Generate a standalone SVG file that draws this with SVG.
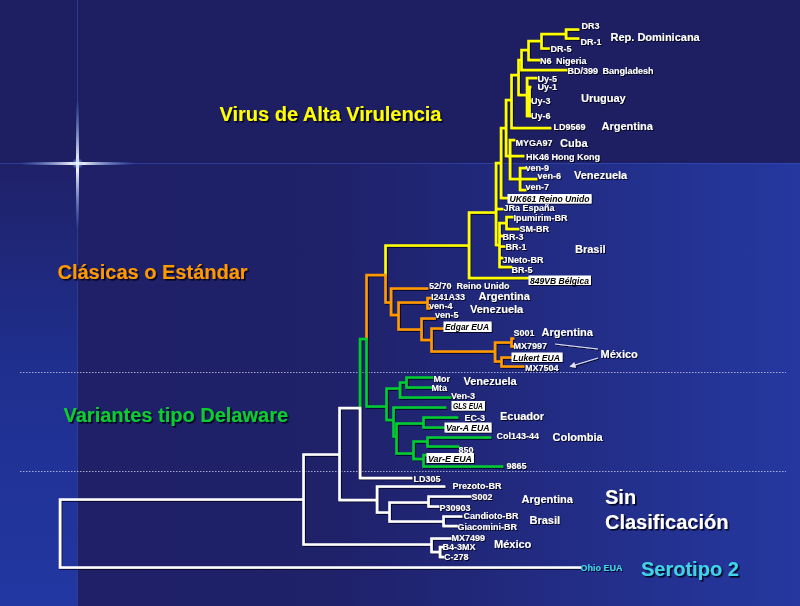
<svg xmlns="http://www.w3.org/2000/svg" width="800" height="606" viewBox="0 0 800 606">
<defs>
<linearGradient id="bgH" x1="0" y1="0" x2="1" y2="0">
<stop offset="0" stop-color="#1f2066"/><stop offset="0.42" stop-color="#1f2169"/><stop offset="1" stop-color="#2538a0"/>
</linearGradient>
<linearGradient id="bgL" x1="0" y1="0" x2="0" y2="1">
<stop offset="0" stop-color="#1f2168"/><stop offset="0.45" stop-color="#1f2f8e"/><stop offset="1" stop-color="#2237a2"/>
</linearGradient>
<linearGradient id="flH" x1="0" y1="0" x2="1" y2="0">
<stop offset="0" stop-color="#6aa0ff" stop-opacity="0"/><stop offset="0.45" stop-color="#ffffff" stop-opacity="0.9"/><stop offset="0.5" stop-color="#ffffff"/><stop offset="0.55" stop-color="#ffffff" stop-opacity="0.9"/><stop offset="1" stop-color="#6aa0ff" stop-opacity="0"/>
</linearGradient>
<linearGradient id="flV" x1="0" y1="0" x2="0" y2="1">
<stop offset="0" stop-color="#6aa0ff" stop-opacity="0"/><stop offset="0.45" stop-color="#ffffff" stop-opacity="0.9"/><stop offset="0.5" stop-color="#ffffff"/><stop offset="0.55" stop-color="#ffffff" stop-opacity="0.9"/><stop offset="1" stop-color="#6aa0ff" stop-opacity="0"/>
</linearGradient>
<radialGradient id="glow"><stop offset="0" stop-color="#ffffff"/><stop offset="0.4" stop-color="#c0d8ff" stop-opacity="0.6"/><stop offset="1" stop-color="#6aa0ff" stop-opacity="0"/></radialGradient>
<filter id="sh" x="-10%" y="-40%" width="130%" height="180%"><feDropShadow dx="1" dy="1" stdDeviation="0.2" flood-color="#000018" flood-opacity="0.9"/></filter>
<filter id="shb" x="-10%" y="-40%" width="130%" height="180%"><feDropShadow dx="1.6" dy="1.6" stdDeviation="0.2" flood-color="#000018" flood-opacity="0.9"/></filter>
<marker id="ah" viewBox="0 0 10 10" refX="9" refY="5" markerWidth="6" markerHeight="5" orient="auto"><path d="M0,0 L10,5 L0,10 z" fill="#e4e4ff"/></marker>
<style>
.t{font-family:"Liberation Sans",Arial,sans-serif;font-weight:bold;font-size:9px;fill:#fff}
.c{font-size:11px}
.big{font-size:20px}
.bl{fill:#000;font-style:italic}
.bx{fill:#fff}
.ln{fill:none;stroke-width:2.6;stroke-linejoin:miter;stroke-linecap:square}
.dot{stroke:#c8c8e8;stroke-width:1;stroke-dasharray:1.5 1.5;opacity:0.8}
</style>
</defs>

<!-- background -->
<rect x="0" y="0" width="800" height="606" fill="#1e1f62"/>
<rect x="0" y="163" width="800" height="443" fill="url(#bgH)"/>
<rect x="0" y="163" width="77" height="443" fill="url(#bgL)"/>
<line x1="0" y1="163.5" x2="800" y2="163.5" stroke="#3550b8" stroke-width="1" opacity="0.6"/>
<line x1="77.5" y1="0" x2="77.5" y2="606" stroke="#3a60c8" stroke-width="1" opacity="0.45"/>
<rect x="20" y="162" width="115" height="3" fill="url(#flH)"/>
<rect x="76" y="100" width="3" height="130" fill="url(#flV)"/>
<circle cx="77.5" cy="163.5" r="6" fill="url(#glow)"/>

<line class="dot" x1="20" y1="372.5" x2="786" y2="372.5"/>
<line class="dot" x1="20" y1="471.5" x2="786" y2="471.5"/>

<!-- connectors -->
<g id="connectors" filter="url(#sh)">
<path class="ln" stroke="#ffff00" d="M385.5,275 V245.5 H469 M469,212.5 V278 H528 M469,212.5 H496 M496,163 V245 H499.5 M496,163 H501 M496,209 H502 M499.5,223 V267 H511 M499.5,223 H506.5 M499.5,236 H502 M499.5,246.5 H504 M499.5,258 H502 M506.5,217 V229 H518 M506.5,217 H512 M501,128 V198 H507.5 M501,128 H506 M506,100 V156 H510 M506,100 H511.5 M510,140 V179 H536 M510,140 H514 M510,156 H523 M520,168 V190 H525 M520,168 H525 M511.5,75 V128 H550 M511.5,75 H518.5 M518.5,60 V95 H527 M518.5,60 H521.5 M521.5,50 V70 H566 M521.5,50 H528.5 M528.5,41 V60 H539 M528.5,41 H541.5 M541.5,34 V48.5 H548.5 M541.5,34 H566 M566,29.5 V38.5 H578 M566,29.5 H578 M527,78 V116 H530 M527,78 H536 M527,87 H530 M527,101 H530 M529.5,88 V116"/>
<path class="ln" stroke="#ff9900" d="M366.5,339 V275 H385.5 V302.5 H391 M391,288.5 V315 H398.5 M391,288.5 H427 M398.5,302.5 V329.5 H421.5 M398.5,302.5 H427.5 M427.5,298 V308.5 H429 M427.5,298 H430 M421.5,318.5 V340 H431.5 M421.5,318.5 H434.5 M431.5,328.5 V351.5 H495 M431.5,328.5 H443.5 M495,342.5 V361.5 H501.5 M495,342.5 H511.5 M511.5,338.5 V346.5 H513 M511.5,338.5 H513 M501.5,357.5 V366.5 H523 M501.5,357.5 H511.5"/>
<path class="ln" stroke="#00cc33" d="M366.5,339 V406.5 H386.5 M360,408 V339 H366.5 M386.5,388.5 V420 H393.5 M386.5,388.5 H400 M400,382.5 V397.5 H450 M400,382.5 H406.5 M406.5,377.5 V387.5 H431 M406.5,377.5 H432 M393.5,407.5 V436.5 H396.5 M393.5,407.5 H445 M396.5,423.5 V453.5 H413.5 M396.5,423.5 H423.5 M423.5,417.5 V427.5 H444.5 M423.5,417.5 H457 M413.5,441.5 V459 H423.5 M413.5,441.5 H427.5 M427.5,437.5 V446.5 H458 M427.5,437.5 H490 M423.5,455 V466.5 H502 M423.5,455 H426.5"/>
<path class="ln" stroke="#ffffff" d="M303.5,499.5 H60 V567.5 H580 M303.5,454.5 V544.5 H431.5 M303.5,454.5 H339.5 M339.5,408 V500 H377 M339.5,408 H360 V478 H411 M377,486.5 V512.5 H389.5 M377,486.5 H444 M389.5,502.5 V521.5 H443.5 M389.5,502.5 H428.5 M428.5,496.5 V506.5 H438 M428.5,496.5 H470 M443.5,516.5 V526 H456.5 M443.5,516.5 H461 M431.5,538.5 V552 H440 M431.5,538.5 H450 M440,547 V557 H443 M440,547 H442"/>
<path d="M598,349 L555,344 M598,358 L570,366.5" stroke="#e4e4ff" stroke-width="1.2" fill="none" marker-end="url(#ah)"/>
</g>

<!-- group titles -->
<g id="titles" filter="url(#shb)">
<text class="t big" x="219.5" y="120.5" style="fill:#ffff00">Virus de Alta Virulencia</text>
<text class="t big" x="57.5" y="279" style="fill:#ff9900">Clásicas o Estándar</text>
<text class="t big" x="63.5" y="421.5" style="fill:#11cc33">Variantes tipo Delaware</text>
<text class="t big" x="605" y="503.5">Sin</text>
<text class="t big" x="605" y="528.5">Clasificación</text>
<text class="t big" x="641" y="576" style="fill:#40d4e8">Serotipo 2</text>
</g>

<!-- labels: alta virulencia -->
<g filter="url(#sh)">
<g id="n-DR3"><text class="t" x="581.5" y="28.5">DR3</text></g>
<g id="n-DR1"><text class="t" x="580.5" y="44.5">DR-1</text></g>
<g id="c-repdom"><text class="t c" x="610.5" y="40.5">Rep. Dominicana</text></g>
<g id="n-DR5"><text class="t" x="550.5" y="52">DR-5</text></g>
<g id="n-N6"><text class="t" x="540" y="64"><tspan x="540">N6</tspan><tspan x="556">Nigeria</tspan></text></g>
<g id="n-BD399"><text class="t" x="567.5" y="74"><tspan x="567.5">BD/399</tspan><tspan x="602.5">Bangladesh</tspan></text></g>
<g id="n-Uy5"><text class="t" x="537.5" y="81.5">Uy-5</text></g>
<g id="n-Uy1"><text class="t" x="537.5" y="90">Uy-1</text></g>
<g id="n-Uy3"><text class="t" x="531" y="103.5">Uy-3</text></g>
<g id="n-Uy6"><text class="t" x="531" y="118.5">Uy-6</text></g>
<g id="c-uruguay"><text class="t c" x="581" y="101.5">Uruguay</text></g>
<g id="n-LD9569"><text class="t" x="553.5" y="129.5">LD9569</text></g>
<g id="c-arg1"><text class="t c" x="601.5" y="129.5">Argentina</text></g>
<g id="n-MYGA97"><text class="t" x="515.5" y="145.5">MYGA97</text></g>
<g id="c-cuba"><text class="t c" x="560" y="146.5">Cuba</text></g>
<g id="n-HK46"><text class="t" x="526" y="160">HK46 Hong Kong</text></g>
<g id="n-ven9"><text class="t" x="525.5" y="170.5">ven-9</text></g>
<g id="n-ven6"><text class="t" x="537.5" y="179">ven-6</text></g>
<g id="c-ven1"><text class="t c" x="574" y="178.5">Venezuela</text></g>
<g id="n-ven7"><text class="t" x="525.5" y="190">ven-7</text></g>
<g id="n-UK661"><rect class="bx" x="507.5" y="194" width="84" height="9.5"/><text class="t bl" x="509.5" y="202" textLength="80" lengthAdjust="spacingAndGlyphs">UK661 Reino Unido</text></g>
<g id="n-JRa"><text class="t" x="503.5" y="211">JRa España</text></g>
<g id="n-Ipumirim"><text class="t" x="513.5" y="220.5">Ipumirim-BR</text></g>
<g id="n-SMBR"><text class="t" x="519.5" y="232">SM-BR</text></g>
<g id="n-BR3"><text class="t" x="502.5" y="239.5">BR-3</text></g>
<g id="n-BR1"><text class="t" x="505.5" y="249.5">BR-1</text></g>
<g id="c-brasil1"><text class="t c" x="575" y="252.5">Brasil</text></g>
<g id="n-JNeto"><text class="t" x="502.5" y="262.5">JNeto-BR</text></g>
<g id="n-BR5"><text class="t" x="511.5" y="272.5">BR-5</text></g>
<g id="n-849VB"><rect class="bx" x="528.5" y="275.5" width="62.5" height="9.5"/><text class="t bl" x="530" y="283.5" textLength="59" lengthAdjust="spacingAndGlyphs">849VB Bélgica</text></g>
</g>

<!-- labels: clasicas -->
<g filter="url(#sh)">
<g id="n-5270"><text class="t" x="429" y="288.5"><tspan x="429">52/70</tspan><tspan x="456.5">Reino Unido</tspan></text></g>
<g id="n-I241A33"><text class="t" x="431" y="299.5">I241A33</text></g>
<g id="c-arg2"><text class="t c" x="478.5" y="299.5">Argentina</text></g>
<g id="n-ven4"><text class="t" x="429" y="309">ven-4</text></g>
<g id="c-ven2"><text class="t c" x="470" y="313">Venezuela</text></g>
<g id="n-ven5"><text class="t" x="435" y="318">ven-5</text></g>
<g id="n-Edgar"><rect class="bx" x="443.5" y="321.5" width="48" height="10.5"/><text class="t bl" x="445" y="330.3" textLength="44" lengthAdjust="spacingAndGlyphs">Edgar EUA</text></g>
<g id="n-S001"><text class="t" x="513.5" y="336">S001</text></g>
<g id="c-arg3"><text class="t c" x="541.5" y="336">Argentina</text></g>
<g id="n-MX7997"><text class="t" x="513.5" y="348.5">MX7997</text></g>
<g id="n-Lukert"><rect class="bx" x="511.5" y="352.5" width="51" height="9.5"/><text class="t bl" x="513" y="360.5" textLength="47" lengthAdjust="spacingAndGlyphs">Lukert EUA</text></g>
<g id="n-MX7504"><text class="t" x="525" y="370.5">MX7504</text></g>
<g id="c-mex1"><text class="t c" x="600.5" y="357.5">México</text></g>
</g>

<!-- labels: delaware -->
<g filter="url(#sh)">
<g id="n-Mor"><text class="t" x="433.5" y="381.5">Mor</text></g>
<g id="n-Mta"><text class="t" x="431.5" y="391">Mta</text></g>
<g id="c-ven3"><text class="t c" x="463.5" y="385">Venezuela</text></g>
<g id="n-Ven3"><text class="t" x="451" y="399">Ven-3</text></g>
<g id="n-GLS"><rect class="bx" x="451.5" y="401" width="33.5" height="9.5"/><text class="t bl" x="453" y="409" textLength="30" lengthAdjust="spacingAndGlyphs">GLS EUA</text></g>
<g id="n-EC3"><text class="t" x="464.5" y="421">EC-3</text></g>
<g id="c-ecuador"><text class="t c" x="500" y="419.5">Ecuador</text></g>
<g id="n-VarA"><rect class="bx" x="444.5" y="422.5" width="47" height="10"/><text class="t bl" x="446" y="431" textLength="43.5" lengthAdjust="spacingAndGlyphs">Var-A EUA</text></g>
<g id="n-Col"><text class="t" x="496.5" y="439">Col143-44</text></g>
<g id="c-colombia"><text class="t c" x="552.5" y="440.5">Colombia</text></g>
<g id="n-850"><text class="t" x="458.5" y="452.5">850</text></g>
<g id="n-VarE"><rect class="bx" x="426.5" y="453" width="47.5" height="10"/><text class="t bl" x="428" y="461.5" textLength="44" lengthAdjust="spacingAndGlyphs">Var-E EUA</text></g>
<g id="n-9865"><text class="t" x="506.5" y="468.5">9865</text></g>
</g>

<!-- labels: sin clasificacion -->
<g filter="url(#sh)">
<g id="n-LD305"><text class="t" x="413.5" y="481.5">LD305</text></g>
<g id="n-Prezoto"><text class="t" x="452.5" y="488.5">Prezoto-BR</text></g>
<g id="n-S002"><text class="t" x="471.5" y="499.5">S002</text></g>
<g id="c-arg4"><text class="t c" x="521.5" y="503">Argentina</text></g>
<g id="n-P30903"><text class="t" x="439.5" y="510.5">P30903</text></g>
<g id="n-Candioto"><text class="t" x="463.5" y="518.5">Candioto-BR</text></g>
<g id="c-brasil2"><text class="t c" x="529.5" y="524">Brasil</text></g>
<g id="n-Giacomini"><text class="t" x="457.5" y="529.5">Giacomini-BR</text></g>
<g id="n-MX7499"><text class="t" x="451.5" y="541">MX7499</text></g>
<g id="c-mex2"><text class="t c" x="494" y="548">México</text></g>
<g id="n-B43MX"><text class="t" x="442.5" y="549.5">B4-3MX</text></g>
<g id="n-C278"><text class="t" x="444" y="560">C-278</text></g>
<g id="n-Ohio"><text class="t" x="580.5" y="570.5" style="fill:#40d4e8">Ohio EUA</text></g>
</g>
</svg>
